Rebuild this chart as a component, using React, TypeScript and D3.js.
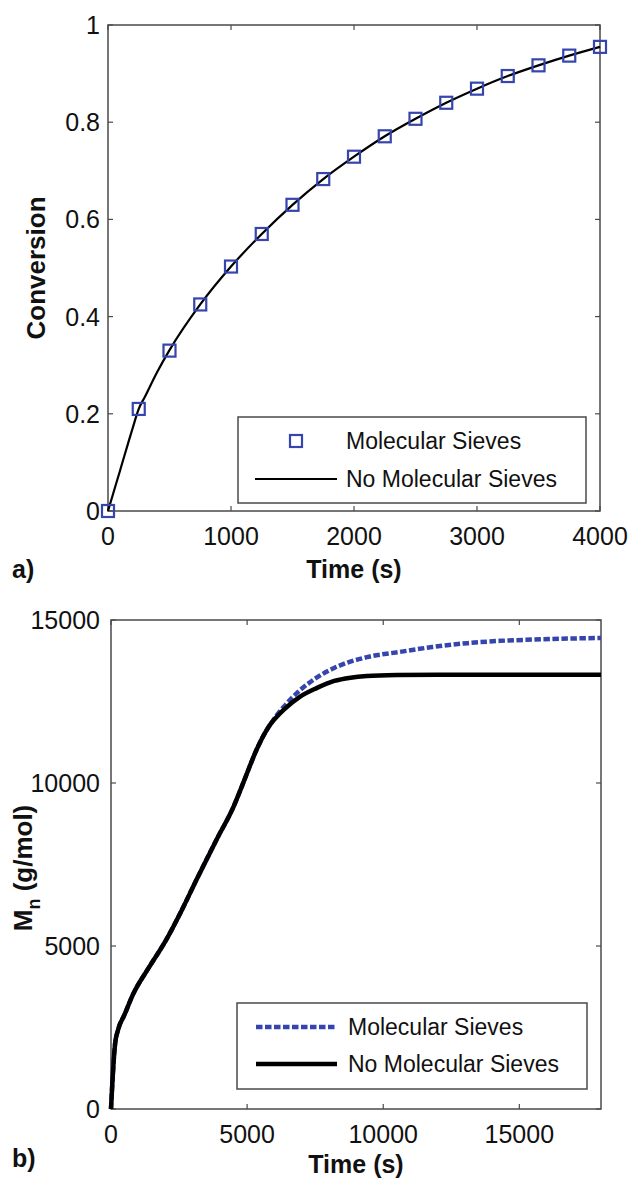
import React from 'react';
import * as d3 from 'd3';

const FONT = '"Liberation Sans", Arial, Helvetica, sans-serif';
const AXIS = '#4a4a4a';
const BLUE = '#3645ad';

// panel a) conversion vs time
const markerTime = [0, 250, 500, 750, 1000, 1250, 1500, 1750, 2000, 2250, 2500, 2750, 3000, 3250, 3500, 3750, 4000];
const markerConv = [0, 0.21, 0.33, 0.425, 0.503, 0.57, 0.63, 0.683, 0.729, 0.771, 0.807, 0.84, 0.869, 0.895, 0.917, 0.937, 0.955];
const lineTime = [0, 100, 200, 250, 300, 400, 500, 750, 1000, 1250, 1500, 1750, 2000, 2250, 2500, 2750, 3000, 3250, 3500, 3750, 4000];
const lineConv = [0, 0.085, 0.17, 0.21, 0.235, 0.286, 0.331, 0.425, 0.503, 0.57, 0.63, 0.683, 0.729, 0.771, 0.807, 0.84, 0.869, 0.895, 0.917, 0.937, 0.955];
const aXTicks = [0, 1000, 2000, 3000, 4000];
const aYTicks = [0, 0.2, 0.4, 0.6, 0.8, 1];

// panel b) Mn vs time (both runs overlap until ~5900 s)
const earlyTime = [0, 50, 100, 150, 250, 500, 800, 1400, 2000, 2600, 3150, 3900, 4500, 4800, 5100, 5300, 5500, 5700, 5900];
const earlyMn = [0, 800, 1500, 2000, 2400, 2900, 3500, 4350, 5150, 6100, 7050, 8300, 9270, 9880, 10520, 10930, 11290, 11600, 11850];
const sievesTime = [6100, 6350, 6950, 7550, 8200, 9400, 10600, 11800, 13100, 14300, 15500, 16800, 18000];
const sievesMn = [12090, 12340, 12850, 13230, 13530, 13860, 14020, 14170, 14290, 14360, 14400, 14430, 14450];
const noSievesTime = [6100, 6350, 6950, 7550, 8200, 8800, 9400, 10500, 12000, 18000];
const noSievesMn = [12040, 12250, 12650, 12910, 13130, 13230, 13280, 13310, 13320, 13320];
const bXTicks = [0, 5000, 10000, 15000];
const bYTicks = [0, 5000, 10000, 15000];

const legendLabels = ['Molecular Sieves', 'No Molecular Sieves'];

function zip(xs: number[], ys: number[]) {
  return xs.map((x, i) => [x, ys[i]] as [number, number]);
}

function Frame({ x, y, xTicks, yTicks }: any) {
  const [x0, x1] = x.range();
  const [y0, y1] = y.range();
  const tl = 5;
  return (
    <g>
      <rect x={x0} y={y1} width={x1 - x0} height={y0 - y1} fill="none" stroke={AXIS} strokeWidth={1.5} />
      {xTicks.map((t: number) => (
        <g key={'x' + t}>
          <line x1={x(t)} x2={x(t)} y1={y0} y2={y0 - tl} stroke={AXIS} strokeWidth={1.2} />
          <line x1={x(t)} x2={x(t)} y1={y1} y2={y1 + tl} stroke={AXIS} strokeWidth={1.2} />
          <text x={x(t)} y={y0 + 34} textAnchor="middle" fontSize={25}>{t}</text>
        </g>
      ))}
      {yTicks.map((t: number) => (
        <g key={'y' + t}>
          <line x1={x0} x2={x0 + tl} y1={y(t)} y2={y(t)} stroke={AXIS} strokeWidth={1.2} />
          <line x1={x1} x2={x1 - tl} y1={y(t)} y2={y(t)} stroke={AXIS} strokeWidth={1.2} />
          <text x={100} y={y(t)} dy="0.36em" textAnchor="end" fontSize={25}>{t}</text>
        </g>
      ))}
    </g>
  );
}

export default function App() {
  // panel a
  const xa = d3.scaleLinear().domain([0, 4000]).range([108, 600]);
  const ya = d3.scaleLinear().domain([0, 1]).range([511, 25]);
  const lineA = d3.line<[number, number]>().x(d => xa(d[0])).y(d => ya(d[1])).curve(d3.curveMonotoneX);

  // panel b
  const xb = d3.scaleLinear().domain([0, 18000]).range([111, 601]);
  const yb = d3.scaleLinear().domain([0, 15000]).range([1109, 620]);
  const lineB = d3.line<[number, number]>().x(d => xb(d[0])).y(d => yb(d[1])).curve(d3.curveMonotoneX);

  const early = zip(earlyTime, earlyMn);
  const sieves = early.concat(zip(sievesTime, sievesMn));
  const noSieves = early.concat(zip(noSievesTime, noSievesMn));

  const sq = 12;

  return (
    <svg width={630} height={1180} style={{ position: 'absolute', left: 0, top: 0, background: '#fff' }}
      fontFamily={FONT} fill="#111">
      {/* panel a */}
      <Frame x={xa} y={ya} xTicks={aXTicks} yTicks={aYTicks} />
      <path d={lineA(zip(lineTime, lineConv)) || ''} fill="none" stroke="#000" strokeWidth={2.2} />
      {markerTime.map((t, i) => (
        <rect key={t} x={xa(t) - sq / 2} y={ya(markerConv[i]) - sq / 2} width={sq} height={sq}
          fill="none" stroke={BLUE} strokeWidth={2.2} />
      ))}
      <rect x={238} y={417} width={348} height={86} fill="#fff" stroke={AXIS} strokeWidth={1.5} />
      <rect x={296 - sq / 2} y={441 - sq / 2} width={sq} height={sq} fill="none" stroke={BLUE} strokeWidth={2.2} />
      <text x={346} y={449} fontSize={23}>{legendLabels[0]}</text>
      <line x1={255} x2={337} y1={479} y2={479} stroke="#000" strokeWidth={2.2} />
      <text x={346} y={487} fontSize={23}>{legendLabels[1]}</text>
      <text x={354} y={578} textAnchor="middle" fontSize={25} fontWeight="bold">Time (s)</text>
      <text transform="translate(45,268) rotate(-90)" textAnchor="middle" fontSize={26} fontWeight="bold">Conversion</text>
      <text x={12} y={578} fontSize={25} fontWeight="bold">a)</text>

      {/* panel b */}
      <Frame x={xb} y={yb} xTicks={bXTicks} yTicks={bYTicks} />
      <path d={lineB(sieves) || ''} fill="none" stroke={BLUE} strokeWidth={4.5} strokeDasharray="6.5 2.5" />
      <path d={lineB(noSieves) || ''} fill="none" stroke="#000" strokeWidth={4.5} />
      <rect x={237} y={1003} width={350} height={86} fill="#fff" stroke={AXIS} strokeWidth={1.5} />
      <line x1={256} x2={337} y1={1027} y2={1027} stroke={BLUE} strokeWidth={4.5} strokeDasharray="6.5 2.5" />
      <text x={348} y={1035} fontSize={23}>{legendLabels[0]}</text>
      <line x1={256} x2={337} y1={1064} y2={1064} stroke="#000" strokeWidth={4.5} />
      <text x={348} y={1072} fontSize={23}>{legendLabels[1]}</text>
      <text x={356} y={1173} textAnchor="middle" fontSize={25} fontWeight="bold">Time (s)</text>
      <text transform="translate(32,868) rotate(-90)" textAnchor="middle" fontSize={26} fontWeight="bold">
        M<tspan fontSize={18} dy={8}>n</tspan><tspan dy={-8}> (g/mol)</tspan>
      </text>
      <text x={12} y={1167} fontSize={25} fontWeight="bold">b)</text>
    </svg>
  );
}
